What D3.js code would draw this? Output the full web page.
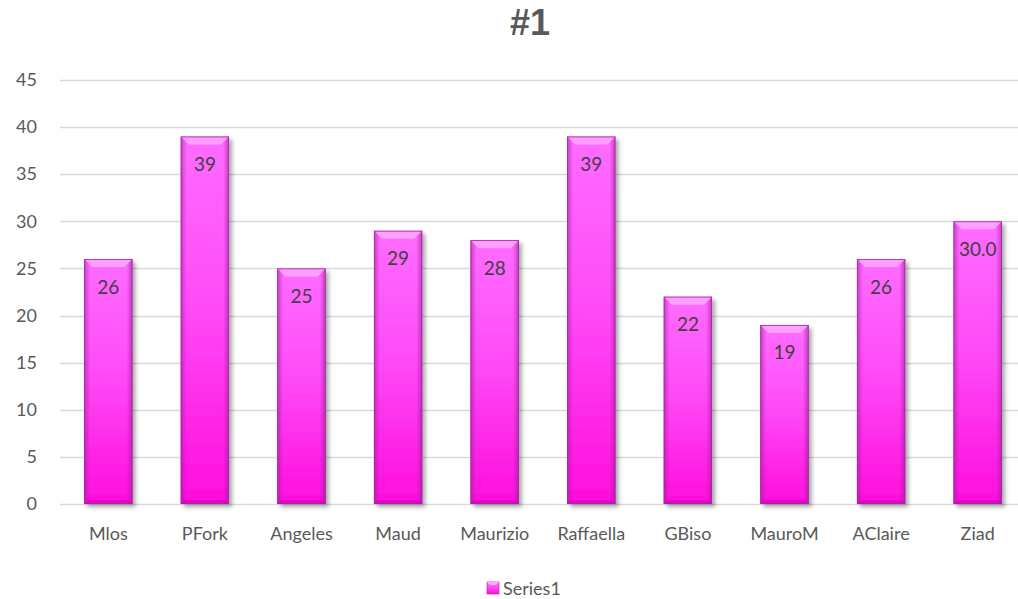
<!DOCTYPE html>
<html>
<head>
<meta charset="utf-8">
<script src="https://cdn.jsdelivr.net/npm/d3@7"></script>
<style>
  html, body { margin: 0; padding: 0; background: #ffffff; }
  svg { display: block; }
  text { font-family: Lato, "Open Sans", "Liberation Sans", sans-serif; }
</style>
</head>
<body>
<svg id="chart" width="1018" height="599"></svg>
<script>
// Chart data
const categories = ["Mlos", "PFork", "Angeles", "Maud", "Maurizio", "Raffaella", "GBiso", "MauroM", "AClaire", "Ziad"];
const values = [26, 39, 25, 29, 28, 39, 22, 19, 26, 30];
const labelDecimals = [0, 0, 0, 0, 0, 0, 0, 0, 0, 1];
const yTicks = [0, 5, 10, 15, 20, 25, 30, 35, 40, 45];
const seriesName = "Series1";
const chartTitle = "#1";

const W = 1018, H = 599;
const svg = d3.select("#chart");
const defs = svg.append("defs");

// Vertical magenta gradient for bar faces
const grad = defs.append("linearGradient").attr("id", "barFill")
  .attr("x1", 0).attr("y1", 0).attr("x2", 0).attr("y2", 1);
grad.append("stop").attr("offset", "0%").attr("stop-color", "#ff6cff");
grad.append("stop").attr("offset", "45%").attr("stop-color", "#ff4cf8");
grad.append("stop").attr("offset", "100%").attr("stop-color", "#ff0ddd");

// Side shading for the bevel
const sideL = defs.append("linearGradient").attr("id", "sideL")
  .attr("x1", 0).attr("y1", 0).attr("x2", 1).attr("y2", 0);
sideL.append("stop").attr("offset", "0%").attr("stop-color", "#9a1f96").attr("stop-opacity", 0.55);
sideL.append("stop").attr("offset", "100%").attr("stop-color", "#9a1f96").attr("stop-opacity", 0);
const sideR = defs.append("linearGradient").attr("id", "sideR")
  .attr("x1", 1).attr("y1", 0).attr("x2", 0).attr("y2", 0);
sideR.append("stop").attr("offset", "0%").attr("stop-color", "#9a1f96").attr("stop-opacity", 0.6);
sideR.append("stop").attr("offset", "100%").attr("stop-color", "#9a1f96").attr("stop-opacity", 0);

// Soft drop shadow
const sh = defs.append("filter").attr("id", "shadow")
  .attr("x", "-20%").attr("y", "-10%").attr("width", "150%").attr("height", "130%");
sh.append("feGaussianBlur").attr("in", "SourceAlpha").attr("stdDeviation", 2.2).attr("result", "b");
sh.append("feOffset").attr("in", "b").attr("dx", 2.5).attr("dy", 3).attr("result", "o");
sh.append("feComponentTransfer").attr("in", "o").attr("result", "s")
  .append("feFuncA").attr("type", "linear").attr("slope", 0.35);
const m = sh.append("feMerge");
m.append("feMergeNode").attr("in", "s");
m.append("feMergeNode").attr("in", "SourceGraphic");

// Scales
const x = d3.scaleBand().domain(categories).range([60, 1026])
  .paddingInner(0.5).paddingOuter(0.25);
const y = d3.scaleLinear().domain([0, 45]).range([504, 80]);

// Gridlines
svg.append("g").selectAll("line").data(yTicks).join("line")
  .attr("x1", 60).attr("x2", W)
  .attr("y1", d => Math.round(y(d)) + 0.5).attr("y2", d => Math.round(y(d)) + 0.5)
  .attr("stroke", "#d9d9d9").attr("stroke-width", 1.3);

// Y axis labels
const yAxis = d3.axisLeft(y).tickValues(yTicks).tickSize(0).tickPadding(0);
const gy = svg.append("g").attr("transform", "translate(37,0)").call(yAxis);
gy.select(".domain").remove();
gy.selectAll("text").attr("font-size", 18).attr("fill", "#595959")
  .style("font-family", "Lato, 'Open Sans', sans-serif");

// X axis labels
const xAxis = d3.axisBottom(x).tickSize(0).tickPadding(0);
const gx = svg.append("g").attr("transform", "translate(0,527)").call(xAxis);
gx.select(".domain").remove();
gx.selectAll("text").attr("font-size", 18).attr("fill", "#595959")
  .style("font-family", "Lato, 'Open Sans', sans-serif");

// Bars with bevel
const bw = x.bandwidth();
const bev = 8;
const bars = svg.append("g").selectAll("g").data(values).join("g")
  .attr("transform", (d, i) => `translate(${x(categories[i])},${y(d)})`);

bars.append("rect")
  .attr("width", bw).attr("height", d => y(0) - y(d))
  .attr("fill", "url(#barFill)")
  .attr("filter", "url(#shadow)");
bars.append("rect")
  .attr("width", 6).attr("height", d => y(0) - y(d))
  .attr("fill", "url(#sideL)");
bars.append("rect")
  .attr("x", bw - 6).attr("width", 6).attr("height", d => y(0) - y(d))
  .attr("fill", "url(#sideR)");
// Top bevel highlight
bars.append("path")
  .attr("d", `M0,0 L${bw},0 L${bw - bev},${bev} L${bev},${bev} Z`)
  .attr("fill", "#ffa8ff").attr("opacity", 0.85);
// Bottom bevel shade
bars.append("path")
  .attr("d", d => {
    const h = y(0) - y(d);
    return `M0,${h} L${bw},${h} L${bw - 4},${h - 4} L4,${h - 4} Z`;
  })
  .attr("fill", "#c000b0").attr("opacity", 0.45);
bars.append("rect")
  .attr("x", 0.4).attr("y", 0.4)
  .attr("width", bw - 0.8).attr("height", d => y(0) - y(d) - 0.8)
  .attr("fill", "none").attr("stroke", "#a326a0").attr("stroke-width", 0.8);

// Data labels inside the top of each bar
svg.append("g").selectAll("text").data(values).join("text")
  .attr("x", (d, i) => x(categories[i]) + bw / 2)
  .attr("y", d => y(d) + 27)
  .attr("text-anchor", "middle").attr("dominant-baseline", "central")
  .attr("font-size", 19).attr("fill", "#404040")
  .text((d, i) => d.toFixed(labelDecimals[i]));

// Title
svg.append("text")
  .attr("x", 530).attr("y", 22)
  .attr("text-anchor", "middle").attr("dominant-baseline", "central")
  .attr("font-size", 36).attr("font-weight", "bold").attr("fill", "#595959")
  .style("font-family", "'Liberation Sans', Arial, sans-serif")
  .text(chartTitle);

// Legend
const lg = svg.append("g").attr("transform", "translate(487,588)");
lg.append("rect").attr("x", 0).attr("y", -6).attr("width", 12).attr("height", 12)
  .attr("fill", "url(#barFill)").attr("stroke", "#a326a0").attr("stroke-width", 0.6);
lg.append("path").attr("d", "M0,-6 L12,-6 L9,-3 L3,-3 Z").attr("fill", "#ffa8ff");
lg.append("text").attr("x", 16).attr("y", 0)
  .attr("dominant-baseline", "central")
  .attr("font-size", 18).attr("fill", "#595959")
  .text(seriesName);
</script>
</body>
</html>
